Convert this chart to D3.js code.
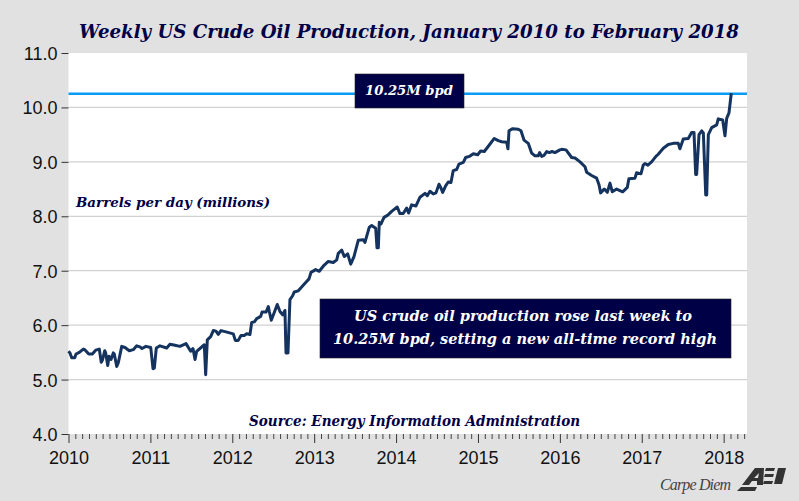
<!DOCTYPE html>
<html>
<head>
<meta charset="utf-8">
<script src="https://cdn.jsdelivr.net/npm/d3@7"></script>
<style>
  html, body { margin: 0; padding: 0; background: #e1e1e1; }
  svg { display: block; }
  .tickText { font-family: "Liberation Sans", Arial, sans-serif; font-size: 18px; fill: #111; }
  .note { font-family: "DejaVu Serif", Georgia, serif; font-weight: bold; font-style: italic; }
</style>
</head>
<body>
<script>
// weekly production, fractional year + millions of bpd
const years = [
  2010.00, 2010.018, 2010.039, 2010.076, 2010.092, 2010.132, 2010.181, 2010.205, 2010.247, 2010.291,
  2010.332, 2010.376, 2010.400, 2010.415, 2010.442, 2010.454, 2010.479, 2010.495, 2010.519, 2010.547,
  2010.559, 2010.589, 2010.608, 2010.650, 2010.690, 2010.742, 2010.791, 2010.833, 2010.873, 2010.897,
  2010.946, 2011.004, 2011.032, 2011.048, 2011.072, 2011.117, 2011.199, 2011.239, 2011.300, 2011.361,
  2011.435, 2011.492, 2011.520, 2011.545, 2011.565, 2011.658, 2011.675, 2011.695, 2011.736, 2011.768,
  2011.801, 2011.829, 2011.862, 2011.911, 2012.012, 2012.037, 2012.073, 2012.106, 2012.146, 2012.176,
  2012.216, 2012.237, 2012.269, 2012.298, 2012.347, 2012.363, 2012.412, 2012.440, 2012.452, 2012.476,
  2012.509, 2012.549, 2012.582, 2012.615, 2012.643, 2012.656, 2012.680, 2012.704, 2012.737, 2012.757,
  2012.806, 2012.888, 2012.937, 2012.961, 2013.018, 2013.062, 2013.120, 2013.172, 2013.233, 2013.275,
  2013.294, 2013.336, 2013.367, 2013.409, 2013.446, 2013.486, 2013.539, 2013.600, 2013.620, 2013.673,
  2013.702, 2013.751, 2013.767, 2013.783, 2013.795, 2013.816, 2013.853, 2013.905, 2013.946, 2014.014,
  2014.047, 2014.087, 2014.129, 2014.153, 2014.190, 2014.243, 2014.292, 2014.353, 2014.381, 2014.414,
  2014.454, 2014.487, 2014.524, 2014.548, 2014.569, 2014.605, 2014.637, 2014.670, 2014.698, 2014.740,
  2014.768, 2014.821, 2014.850, 2014.894, 2014.943, 2014.996, 2015.033, 2015.077, 2015.138, 2015.199,
  2015.248, 2015.290, 2015.351, 2015.366, 2015.379, 2015.424, 2015.492, 2015.525, 2015.562, 2015.614,
  2015.656, 2015.696, 2015.736, 2015.753, 2015.778, 2015.806, 2015.839, 2015.871, 2015.904, 2015.940,
  2016.000, 2016.022, 2016.075, 2016.144, 2016.185, 2016.246, 2016.307, 2016.327, 2016.388, 2016.449,
  2016.478, 2016.498, 2016.542, 2016.579, 2016.612, 2016.640, 2016.693, 2016.767, 2016.823, 2016.843,
  2016.917, 2016.937, 2016.990, 2017.018, 2017.039, 2017.075, 2017.120, 2017.173, 2017.201, 2017.263,
  2017.324, 2017.385, 2017.446, 2017.466, 2017.507, 2017.568, 2017.609, 2017.638, 2017.658, 2017.670,
  2017.699, 2017.732, 2017.752, 2017.781, 2017.793, 2017.813, 2017.854, 2017.915, 2017.934, 2017.988,
  2018.016, 2018.037, 2018.065, 2018.093
];
const production = [
  5.52, 5.49, 5.40, 5.40, 5.47, 5.50, 5.56, 5.54, 5.47, 5.47,
  5.54, 5.56, 5.32, 5.36, 5.53, 5.49, 5.26, 5.43, 5.37, 5.49,
  5.47, 5.24, 5.31, 5.61, 5.59, 5.53, 5.55, 5.62, 5.60, 5.57,
  5.61, 5.59, 5.20, 5.21, 5.58, 5.62, 5.58, 5.65, 5.63, 5.61,
  5.66, 5.52, 5.57, 5.37, 5.52, 5.64, 5.09, 5.73, 5.79, 5.90,
  5.89, 5.83, 5.90, 5.88, 5.84, 5.72, 5.72, 5.81, 5.81, 5.84,
  5.83, 6.05, 6.06, 6.12, 6.16, 6.24, 6.24, 6.34, 6.25, 6.09,
  6.22, 6.38, 6.25, 6.19, 6.27, 5.49, 5.49, 6.47, 6.54, 6.61,
  6.63, 6.77, 6.85, 6.97, 7.02, 6.99, 7.10, 7.17, 7.15, 7.20,
  7.32, 7.38, 7.26, 7.31, 7.12, 7.26, 7.56, 7.57, 7.52, 7.80,
  7.83, 7.78, 7.42, 7.42, 7.89, 7.86, 7.98, 8.03, 8.09, 8.17,
  8.05, 8.05, 8.15, 8.06, 8.21, 8.19, 8.35, 8.42, 8.38, 8.46,
  8.41, 8.43, 8.59, 8.52, 8.44, 8.56, 8.63, 8.62, 8.84, 8.86,
  8.96, 8.99, 9.08, 9.10, 9.15, 9.13, 9.20, 9.19, 9.31, 9.43,
  9.39, 9.37, 9.36, 9.24, 9.57, 9.61, 9.60, 9.57, 9.40, 9.34,
  9.16, 9.11, 9.11, 9.17, 9.10, 9.12, 9.19, 9.17, 9.19, 9.17,
  9.22, 9.23, 9.22, 9.08, 9.07, 9.00, 8.91, 8.81, 8.75, 8.70,
  8.58, 8.43, 8.50, 8.44, 8.61, 8.45, 8.50, 8.45, 8.53, 8.69,
  8.70, 8.80, 8.78, 8.94, 8.97, 8.94, 9.00, 9.10, 9.14, 9.25,
  9.32, 9.34, 9.34, 9.24, 9.42, 9.43, 9.54, 9.54, 8.77, 8.77,
  9.50, 9.57, 9.53, 8.39, 8.39, 9.50, 9.63, 9.68, 9.79, 9.77,
  9.48, 9.80, 9.90, 10.26
];
const yTicks = [4, 5, 6, 7, 8, 9, 10, 11];
const xTicks = [2010, 2011, 2012, 2013, 2014, 2015, 2016, 2017, 2018];
const recordLevel = 10.25;

const titleText = "Weekly US Crude Oil Production, January 2010 to February 2018";
const unitText = "Barrels per day (millions)";
const sourceText = "Source: Energy Information Administration";
const recordText = "10.25M bpd";
const calloutLines = ["US crude oil production rose last week to", "10.25M bpd, setting a new all-time record high"];

const width = 799, height = 501;
const navy = "#000046", lineColor = "#14335f";

const x = d3.scaleLinear().domain([2010, 2018.285]).range([68.5, 747]);
const y = d3.scaleLinear().domain([4, 11]).range([434, 53]);

const svg = d3.select("body").append("svg")
    .attr("width", width)
    .attr("height", height);

svg.append("rect") // plot area
    .attr("x", x.range()[0])
    .attr("y", y.range()[1])
    .attr("width", x.range()[1] - x.range()[0])
    .attr("height", y.range()[0] - y.range()[1])
    .attr("fill", "#fff");

// gridlines
svg.append("g").selectAll("line")
    .data(yTicks.slice(1, -1))
  .join("line")
    .attr("x1", x.range()[0])
    .attr("x2", x.range()[1])
    .attr("y1", d => y(d))
    .attr("y2", d => y(d))
    .attr("stroke", "#d2d2d2")
    .attr("stroke-width", 1.2);

// y axis
const yAxis = svg.append("g")
    .attr("transform", `translate(${x.range()[0]},0)`)
    .call(d3.axisLeft(y).tickValues(yTicks).tickFormat(d3.format(".1f")).tickSize(7).tickPadding(4));
yAxis.select(".domain").remove();
yAxis.selectAll("line").attr("stroke", "#333").attr("stroke-width", 1);
yAxis.selectAll("text").attr("class", "tickText").attr("dy", "0.36em");

// x axis, monthly minor ticks
const months = d3.range(2010 * 12, 2018.285 * 12).map(d => d / 12).filter(d => !xTicks.includes(d));
const xMinor = svg.append("g")
    .attr("transform", `translate(0,${y.range()[0]})`)
    .call(d3.axisBottom(x).tickValues(months).tickFormat("").tickSize(5));
xMinor.select(".domain").remove();
xMinor.selectAll("line").attr("stroke", "#444").attr("stroke-width", 1);

const xAxis = svg.append("g")
    .attr("transform", `translate(0,${y.range()[0]})`)
    .call(d3.axisBottom(x).tickValues(xTicks).tickFormat(d3.format("d")).tickSize(9).tickPadding(8));
xAxis.select(".domain").remove();
xAxis.selectAll("line").attr("stroke", "#333").attr("stroke-width", 1);
xAxis.selectAll("text").attr("class", "tickText");

// record level
svg.append("line")
    .attr("x1", x.range()[0])
    .attr("x2", x.range()[1])
    .attr("y1", y(recordLevel))
    .attr("y2", y(recordLevel))
    .attr("stroke", "#0a9bf5")
    .attr("stroke-width", 2.6);

// production line
const line = d3.line()
    .x((d, i) => x(years[i]))
    .y(d => y(d));

svg.append("path")
    .datum(production)
    .attr("d", line)
    .attr("fill", "none")
    .attr("stroke", lineColor)
    .attr("stroke-width", 3)
    .attr("stroke-linejoin", "round");

// boxes
svg.append("rect")
    .attr("x", 355).attr("y", 74)
    .attr("width", 109).attr("height", 34)
    .attr("fill", navy).attr("stroke", "#222").attr("stroke-width", 0.6);
svg.append("rect")
    .attr("x", 320).attr("y", 299)
    .attr("width", 411).attr("height", 59)
    .attr("fill", navy).attr("stroke", "#222").attr("stroke-width", 0.6);

// text
svg.append("text").attr("class", "note")
    .attr("x", 79).attr("y", 38)
    .attr("font-size", 18).attr("fill", navy)
    .attr("textLength", 660).attr("lengthAdjust", "spacingAndGlyphs")
    .text(titleText);
svg.append("text").attr("class", "note")
    .attr("x", 76).attr("y", 207)
    .attr("font-size", 13).attr("fill", navy)
    .attr("textLength", 194).attr("lengthAdjust", "spacingAndGlyphs")
    .text(unitText);
svg.append("text").attr("class", "note")
    .attr("x", 249).attr("y", 426)
    .attr("font-size", 14).attr("fill", navy)
    .attr("textLength", 331).attr("lengthAdjust", "spacingAndGlyphs")
    .text(sourceText);
svg.append("text").attr("class", "note")
    .attr("x", 365).attr("y", 95)
    .attr("font-size", 12.5).attr("fill", "#fff")
    .attr("textLength", 88).attr("lengthAdjust", "spacingAndGlyphs")
    .text(recordText);
svg.selectAll("text.callout")
    .data(calloutLines)
  .join("text")
    .attr("class", "note callout")
    .attr("x", (d, i) => i ? 333 : 354)
    .attr("y", (d, i) => 321 + i * 23)
    .attr("font-size", 15).attr("fill", "#fff")
    .attr("textLength", (d, i) => i ? 384 : 338).attr("lengthAdjust", "spacingAndGlyphs")
    .text(d => d);

// footer mark
svg.append("text")
    .attr("x", 660).attr("y", 490)
    .attr("font-family", "'Liberation Serif', serif")
    .attr("font-style", "italic")
    .attr("font-size", 16)
    .attr("fill", "#444")
    .attr("textLength", 71)
    .text("Carpe Diem");

const logo = svg.append("g").attr("fill", "#333");
logo.append("path").attr("d", "M737 491 L741 487 L757 487 L755 491 Z");
logo.append("path").attr("fill-rule", "evenodd")
    .attr("d", "M742 485 L755 468 L764 468 L763 485 L757 485 L757 481 L752 481 L749 485 Z M754 478 L758 478 L759 473 Z");
logo.append("path").attr("d", "M766 468 L775 468 L774 471 L765 471 Z M765 474 L774 474 L773 477 L764 477 Z M764 481 L773 481 L772 484 L763 484 Z");
logo.append("path").attr("d", "M778 468 L786 468 L782 484 L774 484 Z");
</script>
</body>
</html>
